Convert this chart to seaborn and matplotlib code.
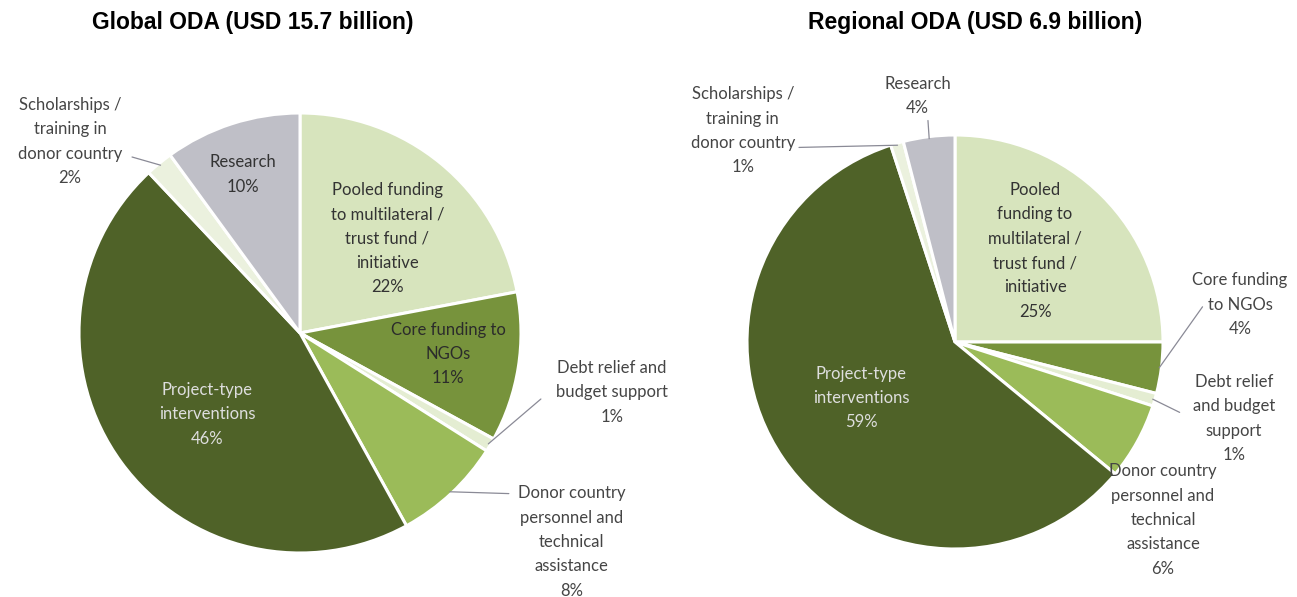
import numpy as np
import pandas as pd
import seaborn as sns
import matplotlib
matplotlib.use("Agg")
import matplotlib.pyplot as plt

sns.set_theme(style="white")
plt.rcParams["font.family"] = ["Lato", "DejaVu Sans"]

# ---- data -------------------------------------------------------------
categories = [
    "Pooled funding to multilateral / trust fund / initiative",
    "Core funding to NGOs",
    "Debt relief and budget support",
    "Donor country personnel and technical assistance",
    "Project-type interventions",
    "Scholarships / training in donor country",
    "Research",
]
global_share = [22, 11, 1, 8, 46, 2, 10]
regional_share = [25, 4, 1, 6, 59, 1, 4]
titles = ["Global ODA (USD 15.7 billion)", "Regional ODA (USD 6.9 billion)"]

slice_colors = ["#d7e4bd", "#77933c", "#e4edd2", "#9bbb59", "#4f6228", "#ebf1de", "#bfbfc7"]

df = pd.DataFrame({"category": categories,
                   "Global": global_share,
                   "Regional": regional_share})

# label text (line-broken) for each pie
global_labels = [
    "Pooled funding\nto multilateral /\ntrust fund /\ninitiative\n22%",
    "Core funding to\nNGOs\n11%",
    "Debt relief and\nbudget support\n1%",
    "Donor country\npersonnel and\ntechnical\nassistance\n8%",
    "Project-type\ninterventions\n46%",
    "Scholarships /\ntraining in\ndonor country\n2%",
    "Research\n10%",
]
regional_labels = [
    "Pooled\nfunding to\nmultilateral /\ntrust fund /\ninitiative\n25%",
    "Core funding\nto NGOs\n4%",
    "Debt relief\nand budget\nsupport\n1%",
    "Donor country\npersonnel and\ntechnical\nassistance\n6%",
    "Project-type\ninterventions\n59%",
    "Scholarships /\ntraining in\ndonor country\n1%",
    "Research\n4%",
]

# label placement in pie-radius units: (x, y) text centre, optional leader line end
global_place = [
    (0.395, 0.43, None),
    (0.67, -0.095, None),
    (1.41, -0.27, (1.09, -0.30)),
    (1.23, -0.95, (0.945, -0.73)),
    (-0.42, -0.37, None),
    (-1.04, 0.87, (-0.76, 0.80)),
    (-0.26, 0.72, None),
]
regional_place = [
    (0.385, 0.44, None),
    (1.37, 0.18, (1.19, 0.17)),
    (1.34, -0.37, (1.08, -0.34)),
    (1.00, -0.86, None),
    (-0.45, -0.27, None),
    (-1.02, 1.02, (-0.75, 0.94)),
    (-0.18, 1.19, (-0.13, 1.07)),
]
inside_colors = {0: "#333333", 1: "#2b2b2b", 4: "#dedede", 6: "#333333"}

W, H = 1297, 597
fig = plt.figure(figsize=(W / 100, H / 100), dpi=100)


def draw_pie(cx, cy, rx, ry, values, labels, place, title, title_x):
    ax = fig.add_axes([(cx - rx) / W, (H - cy - ry) / H, 2 * rx / W, 2 * ry / H])
    wedges, _ = ax.pie(values, colors=slice_colors, startangle=90, counterclock=False,
                       radius=1.0, wedgeprops=dict(edgecolor="white", linewidth=2.2))
    ax.set_xlim(-1, 1)
    ax.set_ylim(-1, 1)
    ax.set_aspect("auto")
    ax.axis("off")
    for i, (w, lab, (tx, ty, lead)) in enumerate(zip(wedges, labels, place)):
        color = inside_colors[i] if (lead is None and i in inside_colors and
                                     abs(tx) < 1 and abs(ty) < 1) else "#454545"
        ax.text(tx, ty, lab, ha="center", va="center", fontsize=12,
                color=color, linespacing=1.64, clip_on=False)
        if lead is not None:
            mid = np.deg2rad((w.theta1 + w.theta2) / 2)
            ex, ey = np.cos(mid) * 0.99, np.sin(mid) * 0.99
            ax.plot([ex, lead[0]], [ey, lead[1]], color="#8a8a96", lw=0.9, clip_on=False)
    fig.text(title_x / W, 1 - 23 / H, title, ha="center", va="center",
             fontsize=16.5, fontweight="bold", family="Liberation Sans", color="black")
    return ax


draw_pie(300, 333, 221, 220, df["Global"], global_labels, global_place, titles[0], 253)
draw_pie(955, 342, 208, 207, df["Regional"], regional_labels, regional_place, titles[1], 975)

fig.savefig("out.png", dpi=100, facecolor="white")
